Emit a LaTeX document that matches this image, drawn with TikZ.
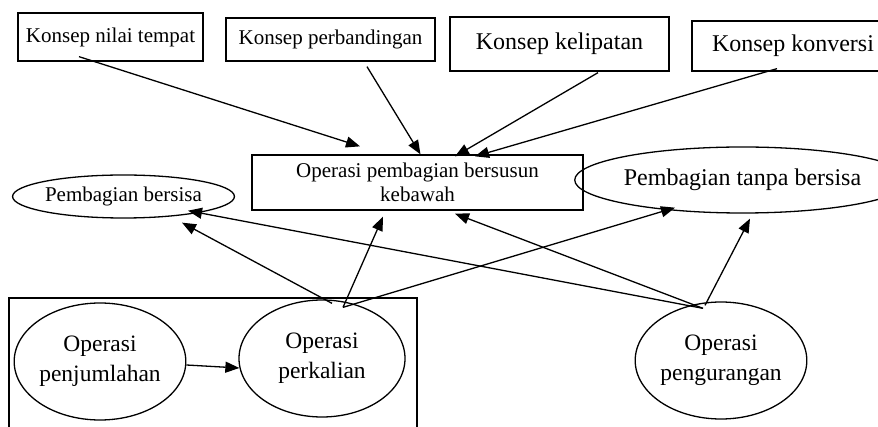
\documentclass[tikz,border=0pt]{standalone}
\usepackage{fontspec}
\setmainfont{Liberation Serif}
\usetikzlibrary{arrows.meta,shapes.geometric}
\tikzset{
  lw/.style={line width=1.3pt},
  boxA/.style={draw,lw,rectangle,inner sep=0pt,align=center,font=\fontsize{21}{24}\selectfont},
  boxB/.style={draw,lw,rectangle,inner sep=0pt,align=center,font=\fontsize{24}{28}\selectfont},
  ell/.style={draw,lw,ellipse,inner sep=0pt,align=center},
  arr/.style={lw,-{Triangle[length=14pt,width=11pt]}}
}
\begin{document}
\begin{tikzpicture}[x=1pt,y=-1pt]
\useasboundingbox (0,0) rectangle (878,427);
% top concept boxes
\node[boxA,minimum width=185pt,minimum height=48pt] (A) at (110.5,37) {Konsep nilai tempat};
\node[boxA,minimum width=209pt,minimum height=43pt] (B) at (330.5,39.5) {Konsep perbandingan};
\node[boxB,minimum width=219pt,minimum height=54pt] (C) at (559.5,44) {Konsep kelipatan};
\node[boxB,minimum width=202pt,minimum height=50pt] (D) at (793,46) {Konsep konversi};
% central box
\node[boxA,minimum width=331pt,minimum height=55pt] (E) at (417.5,182.5) {Operasi pembagian bersusun\\kebawah};
% ellipses
\node[ell,minimum width=217pt,minimum height=43pt,font=\fontsize{21}{24}\selectfont] (F) at (123.5,196.5) {Pembagian bersisa};
\node[ell,minimum width=269pt,minimum height=66pt,font=\fontsize{24}{28}\selectfont] (G) at (742.5,180) {Pembagian tanpa bersisa};
\node[ell,minimum width=166pt,minimum height=117pt,font=\fontsize{23.5}{30}\selectfont] (H) at (100,361.5) {Operasi\\penjumlahan};
\node[ell,minimum width=166pt,minimum height=117pt,font=\fontsize{23.5}{30}\selectfont] (I) at (322,358.5) {Operasi\\perkalian};
\node[ell,minimum width=166pt,minimum height=117pt,font=\fontsize{23.5}{30}\selectfont] (J) at (721,360.5) {Operasi\\pengurangan};
% frame around addition/multiplication
\draw[lw] (9,432) -- (9,298) -- (417,298) -- (417,432);
% arrows from concepts to central box
\draw[arr] ([shift={(-31.5,-5)}]A.south) -- ([shift={(-57.5,-8)}]E.north);
\draw[arr] ([shift={(36.5,5)}]B.south) -- ([shift={(3,0)}]E.north);
\draw[arr] ([shift={(38.5,1)}]C.south) -- ([shift={(37.5,2)}]E.north);
\draw[arr] ([shift={(-16,-3)}]D.south) -- ([shift={(57.5,2)}]E.north);
% arrows from perkalian
\draw[arr] ([shift={(10,4)}]I.north) -- ([shift={(58.5,4)}]F.south);
\draw[arr] ([shift={(21,8)}]I.north) -- ([shift={(-34.5,6)}]E.south);
\draw[arr] ([shift={(21,8)}]I.north) -- ([shift={(-67.5,-6)}]G.south);
% arrows from pengurangan
\draw[arr] ([shift={(-18,7)}]J.north) -- ([shift={(64.5,-8)}]F.south);
\draw[arr] ([shift={(-18,7)}]J.north) -- ([shift={(37.5,3)}]E.south);
\draw[arr] ([shift={(-16,4)}]J.north) -- ([shift={(7.5,5)}]G.south);
% penjumlahan to perkalian
\draw[arr] ([shift={(0,3.5)}]H.east) -- ([shift={(1,9.5)}]I.west);
\end{tikzpicture}
\end{document}
